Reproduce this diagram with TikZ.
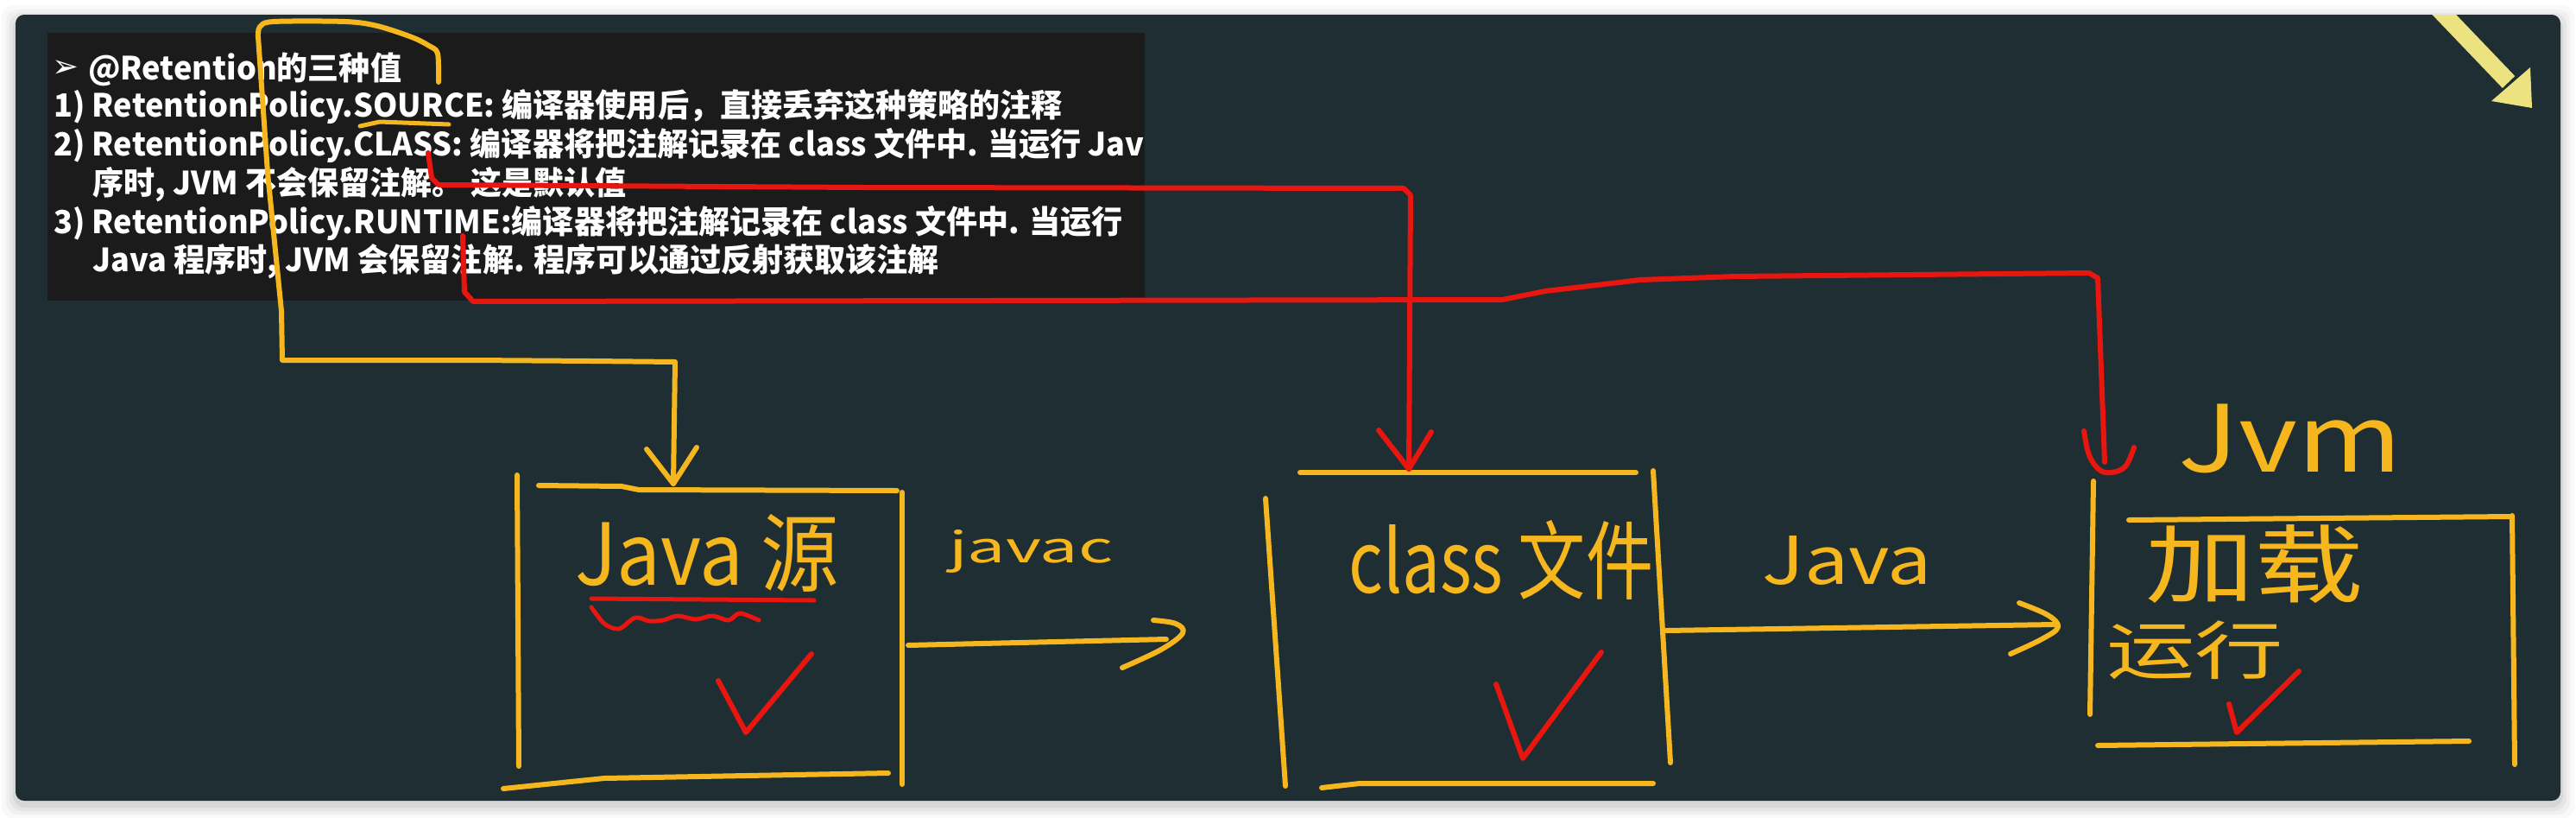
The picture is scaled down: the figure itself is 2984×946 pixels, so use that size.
\documentclass[tikz,border=0pt]{standalone}
\usepackage{fontspec}
\usepackage{graphicx}
\newfontfamily\pf[FakeStretch=0.975]{Noto Sans CJK SC}
\newfontfamily\hf{Noto Sans CJK SC}
\newfontfamily\dv{DejaVu Sans}
\definecolor{card}{RGB}{31,46,51}
\definecolor{panel}{RGB}{27,27,27}
\definecolor{handy}{RGB}{245,182,30}
\definecolor{redy}{RGB}{232,22,14}
\definecolor{pale}{RGB}{236,226,128}
\begin{document}
\begin{tikzpicture}[x=1pt,y=-1pt,
  hand/.style={draw=handy,line width=6pt,line cap=round,line join=round},
  redl/.style={draw=redy,line width=6pt,line cap=round,line join=round},
  ptext/.style={anchor=base west,inner sep=0pt,text=white,font=\pf\bfseries\fontsize{37}{40}\selectfont},
  hlabel/.style={anchor=north west,inner sep=0pt,text=handy,font=\hf\fontsize{60}{60}\selectfont}]
\useasboundingbox (0,0) rectangle (2984,946);
\fill[white] (0,0) rectangle (2984,946);
\foreach \i/\o in {16/0.025,11/0.035,7/0.045,3/0.06}
  {\fill[black,opacity=\o,rounded corners=14pt] ({18-\i},{17-\i+5}) rectangle ({2966+\i},{927+\i+5});}
\fill[card,rounded corners=10pt] (18,17) rectangle (2966,927);
\fill[panel] (55,38) rectangle (1326,348);
% pale arrow top right
\begin{scope}
\clip[rounded corners=10pt] (18,17) rectangle (2966,927);
\draw[pale,line width=20pt] (2815,0) -- (2906,95);
\fill[pale] (2931,78) -- (2933,125) -- (2886,117) -- cycle;
\end{scope}
% panel text
\begin{scope}
\clip (55,38) rectangle (1326,348);
\node[anchor=west,inner sep=0pt,text=white,font=\dv\fontsize{37}{37}\selectfont] (bullet) at (60,80) {➢};
\node[ptext] (title) at (102,92) {@Retention的三种值};
\node[ptext] (l1) at (62,135) {1) RetentionPolicy.SOURCE: 编译器使用后，直接丢弃这种策略的注释};
\node[ptext] (l2) at (62,180) {2) RetentionPolicy.CLASS: 编译器将把注解记录在 class 文件中. 当运行 Jav};
\node[ptext] (l2b) at (107,225) {序时, JVM 不会保留注解。 这是默认值};
\node[ptext] (l3) at (62,270) {3) RetentionPolicy.RUNTIME:编译器将把注解记录在 class 文件中. 当运行};
\node[ptext] (l3b) at (107,314) {Java 程序时, JVM 会保留注解. 程序可以通过反射获取该注解};
\end{scope}
% handwritten labels
\node[hlabel] (javasrc) at (666,595) {\resizebox*{306pt}{90pt}{Java 源}};
\node[hlabel] (javac) at (1099,613) {\resizebox*{190pt}{50pt}{javac}};
\node[hlabel] (classf) at (1562,602) {\resizebox*{353pt}{92pt}{class 文件}};
\node[hlabel] (javarun) at (2041,620) {\resizebox*{197pt}{57pt}{Java}};
\node[hlabel] (jvm) at (2523,468) {\resizebox*{259pt}{80pt}{Jvm}};
\node[hlabel] (load) at (2485,607) {\resizebox*{253pt}{91pt}{加载}};
\node[hlabel] (run) at (2440,718) {\resizebox*{205pt}{68pt}{运行}};
% named points
\coordinate (srcIn) at (780,560);
\coordinate (classIn) at (1632,543);
\coordinate (jvmIn) at (2446,547);
\coordinate (javacEnd) at (1351,740);
\coordinate (javaEnd) at (2380,723);
% Java source box
\draw[hand] (599,550) -- (601,887);
\draw[hand] (624,562) -- (720,563) -- (740,567) -- (1039,568);
\draw[hand] (1045,570) -- (1045,908);
\draw[hand] (583,913) -- (700,901) -- (1029,895);
% class box
\draw[hand] (1466,577) -- (1489,910);
\draw[hand] (1506,547) -- (1895,547);
\draw[hand] (1915,545) -- (1935,883);
\draw[hand] (1531,912) -- (1575,907) -- (1915,907);
% JVM box
\draw[hand] (2425,557) -- (2421,827);
\draw[hand] (2466,602) -- (2908,598);
\draw[hand] (2910,597) -- (2913,885);
\draw[hand] (2430,863) -- (2860,858);
% javac arrow
\draw[hand] (1052,747) -- (javacEnd);
\draw[hand] plot[smooth,tension=0.6] coordinates {(1336,718) (1362,722) (1370,733) (1345,752) (1300,773)};
% java arrow
\draw[hand] (1930,730) -- (javaEnd);
\draw[hand] plot[smooth,tension=0.6] coordinates {(2339,698) (2372,712) (2384,726) (2365,740) (2329,757)};
% SOURCE connector
\draw[hand,line width=5pt] (417,146) -- (440,141) -- (520,144);
\draw[hand] plot[smooth,tension=0.5] coordinates {(508,95) (507,62) (497,53) (477,43) (437,30) (400,25) (317,25) (301,31) (299,42)}
  -- (310,200) -- (326,360) -- (327,417) -- (548,417) -- (686,418) -- (782,419) -- (srcIn);
\draw[hand] (749,520) -- (srcIn) -- (807,518);
% CLASS connector (red)
\draw[redl] (496,177) -- (500,206) -- (508,214) -- (1000,217) -- (1626,218) -- (1634,226) -- (classIn);
\draw[redl] (1597,498) -- (classIn) -- (1658,500);
% RUNTIME connector (red)
\draw[redl] (536,273) -- (538,338) -- (548,349) -- (1740,347) -- (1790,337) -- (1850,330) -- (1900,324) -- (2010,320) -- (2420,316) -- (2430,322) -- (2438,535);
\draw[redl] plot[smooth,tension=0.6] coordinates {(2414,499) (2420,527) (2432,544) (jvmIn) (2462,540) (2472,518)};
% red marks in Java box
\draw[redl,line width=5pt] (685,693) -- (943,695);
\draw[redl,line width=5pt] plot[smooth,tension=0.5] coordinates {(685,703) (700,722) (717,728) (736,715) (752,719) (768,718) (785,713) (806,717) (825,713) (844,718) (857,710) (879,718)};
% check marks
\draw[redl] (832,788) -- (864,848) -- (940,757);
\draw[redl] (1733,792) -- (1764,878) -- (1855,755);
\draw[redl] (2582,815) -- (2591,848) -- (2663,777);
\end{tikzpicture}
\end{document}
